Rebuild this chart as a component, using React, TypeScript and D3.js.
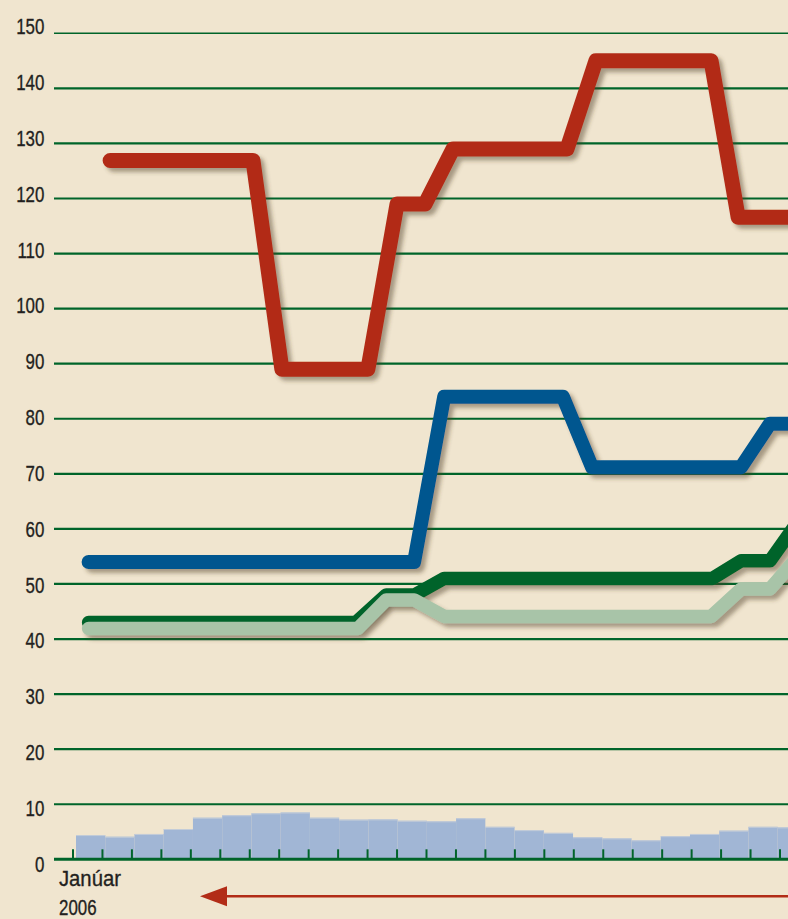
import React from 'react';
import * as d3 from 'd3';

type Pt = [number, number]; // [month index, value]

const W = 788;
const H = 919;

const yTicks = d3.range(10, 151, 10);
const yLabels = d3.range(0, 151, 10);
const tickMonths = d3.range(0, 25);

// monthly background bars
const barValues = [
  4.4, 4.1, 4.6, 5.5, 7.55, 8.0, 8.35, 8.5, 7.55, 7.2, 7.25, 7.0, 6.9,
  7.45, 5.9, 5.3, 4.8, 4.0, 3.8, 3.45, 4.2, 4.6, 5.2, 5.9, 5.8,
];

const redSeries: Pt[] = [
  [1.26, 126.9], [6.11, 126.9], [7.09, 89], [10.01, 89], [11.0, 119], [11.95, 119],
  [12.9, 129], [16.77, 129], [17.75, 145], [21.66, 145], [22.58, 116.6], [25, 116.6],
];
const blueSeries: Pt[] = [
  [0.53, 54], [11.58, 54], [12.6, 84], [16.63, 84], [17.62, 71.2], [22.68, 71.2],
  [23.66, 79.1], [25, 79.1],
];
const darkGreenSeries: Pt[] = [
  [0.53, 43], [9.6, 43], [10.63, 48], [11.6, 48], [12.6, 51], [21.7, 51],
  [22.68, 54.2], [23.66, 54.2], [24.7, 62],
];
const lightGreenSeries: Pt[] = [
  [0.53, 41.9], [9.67, 41.9], [10.63, 47.1], [11.58, 47.1], [12.6, 44.1], [21.66, 44.1],
  [22.68, 49.1], [23.66, 49.1], [24.7, 55.5],
];

const COLORS = {
  bg: '#f0e5cf',
  grid: '#00642a',
  bar: '#a1b6d5',
  red: '#b22c17',
  blue: '#00568f',
  darkGreen: '#00642a',
  lightGreen: '#a8c4a8',
  text: '#231f20',
};

const FONT = '"Liberation Sans", Arial, sans-serif';

const Label: React.FC<{ x: number; y: number; sx: number; anchor?: string; children: React.ReactNode }> = ({
  x, y, sx, anchor = 'start', children,
}) => (
  <g transform={`translate(${x},${y}) scale(${sx},1)`}>
    <text textAnchor={anchor} fontFamily={FONT} fontSize={22.5} fill={COLORS.text}
      stroke={COLORS.text} strokeWidth={0.35}>{children}</text>
  </g>
);

export default function App() {
  const x = d3.scaleLinear().domain([0, 24]).range([73, 780]);
  const xBar = d3.scaleLinear().domain([0, 24]).range([76, 777.7]);
  const y = d3.scaleLinear().domain([0, 150]).range([859.3, 33.3]);
  // the axis numbers are set on their own, slightly wider spacing
  const yLabel = d3.scaleLinear().domain([0, 150]).range([871.7, 34.3]);

  const line = d3.line<Pt>().x((d) => x(d[0])).y((d) => y(d[1]));

  const gridLeft = 54;
  const y0 = y(0);
  const arrowY = y0 + 37;
  const arrowTip = 200;

  const series = [
    { key: 'darkGreen', data: darkGreenSeries, color: COLORS.darkGreen, width: 13.5 },
    { key: 'lightGreen', data: lightGreenSeries, color: COLORS.lightGreen, width: 13.5 },
    { key: 'blue', data: blueSeries, color: COLORS.blue, width: 14 },
    { key: 'red', data: redSeries, color: COLORS.red, width: 15 },
  ];

  return (
    <div style={{ position: 'absolute', left: 0, top: 0, width: W, height: H, overflow: 'hidden' }}>
      <svg width={W} height={H} style={{ display: 'block' }}>
        <defs>
          <filter id="shadow" filterUnits="userSpaceOnUse" x={0} y={0} width={W} height={H}>
            <feDropShadow dx={4} dy={4} stdDeviation={2.2} floodColor="#4a3a20" floodOpacity={0.45} />
          </filter>
        </defs>
        <rect width={W} height={H} fill={COLORS.bg} />

        {/* grid */}
        {yTicks.map((t) => (
          <line key={t} x1={gridLeft} x2={W} y1={y(t)} y2={y(t)}
            stroke={COLORS.grid} strokeWidth={t === 150 ? 1.6 : 2.2} />
        ))}

        {/* bars */}
        {barValues.map((v, i) => (
          <g key={i}>
            <rect x={xBar(i)} width={xBar(i + 1) - xBar(i)} y={y(v)} height={y0 - y(v)} fill={COLORS.bar} />
            <line x1={xBar(i)} x2={xBar(i + 1)} y1={y(v) + 0.5} y2={y(v) + 0.5} stroke="#c3ccd8" strokeWidth={1} />
          </g>
        ))}

        {/* base line + month ticks */}
        <line x1={gridLeft} x2={W} y1={y0} y2={y0} stroke={COLORS.grid} strokeWidth={3} />
        {tickMonths.map((m) => (
          <line key={m} x1={x(m)} x2={x(m)} y1={y0} y2={y0 - 10} stroke={COLORS.grid} strokeWidth={2} />
        ))}

        {/* series */}
        {series.map((s) => (
          <path key={s.key} d={line(s.data) ?? ''} fill="none" stroke={s.color} strokeWidth={s.width}
            strokeLinejoin="round" strokeLinecap="round" filter="url(#shadow)" />
        ))}

        {/* axis labels */}
        {yLabels.map((t) => (
          <Label key={t} x={44.3} y={yLabel(t)} sx={0.75} anchor="end">{t}</Label>
        ))}
        <Label x={59} y={y0 + 26.7} sx={0.9}>Janúar</Label>
        <Label x={59} y={y0 + 56} sx={0.75}>2006</Label>

        {/* time arrow */}
        <line x1={arrowTip + 24} x2={W} y1={arrowY} y2={arrowY} stroke={COLORS.red} strokeWidth={2.6} />
        <path d={`M${arrowTip},${arrowY}L${arrowTip + 27},${arrowY - 10}L${arrowTip + 27},${arrowY + 10}Z`} fill={COLORS.red} />
      </svg>
    </div>
  );
}
